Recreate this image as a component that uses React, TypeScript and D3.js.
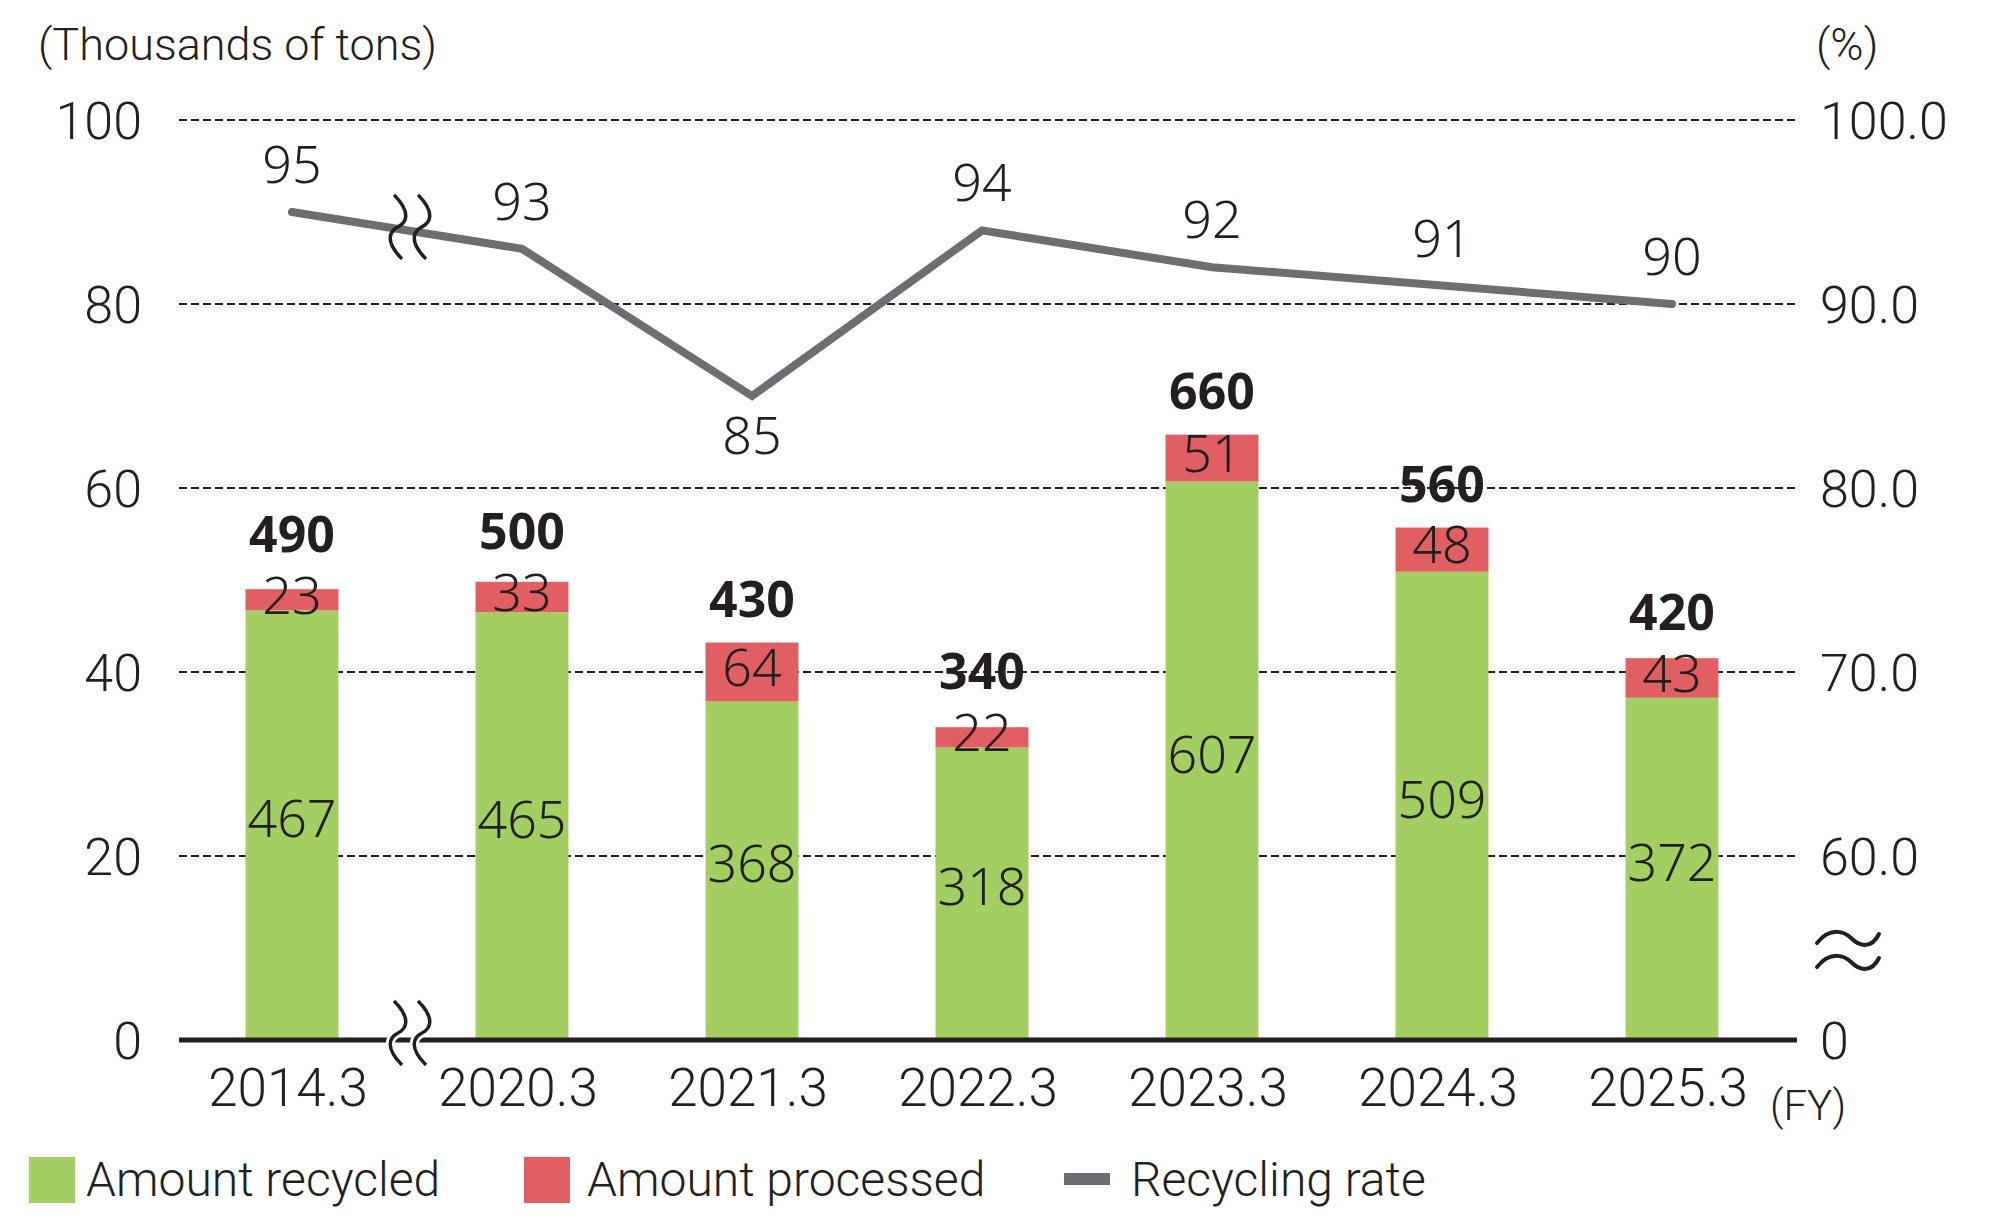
import React from 'react'
import * as d3 from 'd3'

// fiscal years on the x axis
const years = ['2014.3', '2020.3', '2021.3', '2022.3', '2023.3', '2024.3', '2025.3']
// hundreds of tons, as labelled on the bars
const recycled = [467, 465, 368, 318, 607, 509, 372]
const processed = [23, 33, 64, 22, 51, 48, 43]
const totals = [490, 500, 430, 340, 660, 560, 420]
// recycling rate, %
const rate = [95, 93, 85, 94, 92, 91, 90]

const leftTicks = [0, 20, 40, 60, 80, 100]
const rightTicks = [60, 70, 80, 90, 100]

const GREEN = '#a3cf62'
const RED = '#e15e62'
const GREY = '#6d6e71'
const AXIS_FONT = 'Roboto, "Liberation Sans", sans-serif'
const DATA_FONT = '"Noto Sans", "Open Sans", sans-serif'

export default () => {
  const W = 2000
  const H = 1232

  const x = d3
    .scaleBand<string>()
    .domain(years)
    .range([177, 1787])
    .paddingInner(0.596)
    .paddingOuter(0.298)

  const y = d3.scaleLinear().domain([0, 100]).range([1040, 120])
  // right axis: 60..100 % mapped onto 20..100 of the left axis
  const yRate = d3.scaleLinear().domain([50, 100]).range([y(0), y(100)])

  const plotLeft = 179
  const plotRight = 1797
  const cx = (d: string) => (x(d) as number) + x.bandwidth() / 2

  const line = d3
    .line<number>()
    .x((_, i) => cx(years[i]))
    .y((d) => yRate(d))

  // squiggle used for the axis breaks
  const squiggle = (bx: number, by: number) =>
    `M${bx - 4},${by - 32} C${bx + 14},${by - 14} ${bx + 8},${by - 4} ${bx},${by}` +
    ` C${bx - 8},${by + 4} ${bx - 14},${by + 14} ${bx + 4},${by + 32}`
  const tilde = (tx: number, ty: number) =>
    `M${tx},${ty + 5} C${tx + 14},${ty - 12} ${tx + 28},${ty - 6} ${tx + 34},${ty}` +
    ` C${tx + 42},${ty + 8} ${tx + 54},${ty + 12} ${tx + 62},${ty - 4}`

  const breakX = (cx(years[0]) + cx(years[1])) / 2 + 3
  const t = (breakX - cx(years[0])) / (cx(years[1]) - cx(years[0]))
  const breakLineY = yRate(rate[0]) + t * (yRate(rate[1]) - yRate(rate[0]))
  const minIdx = rate.indexOf(d3.min(rate) as number)

  return (
    <svg
      width={W}
      height={H}
      viewBox={`0 0 ${W} ${H}`}
      style={{ position: 'absolute', left: 0, top: 0, background: '#fff' }}
    >
      <rect width={W} height={H} fill="#fff" />

      {/* axis titles */}
      <text x={38} y={60} fontFamily={AXIS_FONT} fontWeight={300} fontSize={45} fill="#231f20">
        (Thousands of tons)
      </text>
      <text x={1816} y={60} fontFamily={AXIS_FONT} fontWeight={300} fontSize={45} fill="#231f20">
        (%)
      </text>

      {/* dashed gridlines */}
      {leftTicks
        .filter((d) => d > 0)
        .map((d) => (
          <line
            key={'g' + d}
            x1={plotLeft}
            x2={plotRight}
            y1={y(d)}
            y2={y(d)}
            stroke="#231f20"
            strokeWidth={2}
            strokeDasharray="8 4"
          />
        ))}

      {/* left tick labels */}
      {leftTicks.map((d) => (
        <text
          key={'l' + d}
          x={142}
          y={y(d)}
          dy="0.36em"
          textAnchor="end"
          fontFamily={AXIS_FONT}
          fontWeight={300}
          fontSize={52}
          fill="#231f20"
        >
          {d}
        </text>
      ))}

      {/* right tick labels */}
      {rightTicks.map((d) => (
        <text
          key={'r' + d}
          x={1820}
          y={yRate(d)}
          dy="0.36em"
          fontFamily={AXIS_FONT}
          fontWeight={300}
          fontSize={52}
          fill="#231f20"
        >
          {d.toFixed(1)}
        </text>
      ))}
      <text x={1820} y={y(0)} dy="0.36em" fontFamily={AXIS_FONT} fontWeight={300} fontSize={52} fill="#231f20">
        0
      </text>
      <path d={tilde(1817, 938)} fill="none" stroke="#231f20" strokeWidth={4} strokeLinecap="round" />
      <path d={tilde(1817, 962)} fill="none" stroke="#231f20" strokeWidth={4} strokeLinecap="round" />

      {/* stacked bars */}
      {years.map((yr, i) => (
        <g key={'b' + yr}>
          <rect
            x={x(yr)}
            y={y(recycled[i] / 10)}
            width={x.bandwidth()}
            height={y(0) - y(recycled[i] / 10)}
            fill={GREEN}
          />
          <rect
            x={x(yr)}
            y={y((recycled[i] + processed[i]) / 10)}
            width={x.bandwidth()}
            height={y(recycled[i] / 10) - y((recycled[i] + processed[i]) / 10)}
            fill={RED}
          />
        </g>
      ))}

      {/* baseline */}
      <line x1={plotLeft} x2={plotRight} y1={y(0)} y2={y(0)} stroke="#231f20" strokeWidth={5} />
      {[-12, 12].map((o) => (
        <g key={'bk' + o}>
          <path d={squiggle(breakX + o, y(0) - 7)} fill="none" stroke="#fff" strokeWidth={9} />
          <path d={squiggle(breakX + o, y(0) - 7)} fill="none" stroke="#231f20" strokeWidth={3.5} />
        </g>
      ))}

      {/* bar value labels */}
      {years.map((yr, i) => {
        const gMid = (y(0) + y(recycled[i] / 10)) / 2
        const rMid = (y(recycled[i] / 10) + y((recycled[i] + processed[i]) / 10)) / 2
        const top = y((recycled[i] + processed[i]) / 10)
        // total sits above the bar, clear of the small red-segment label
        const totalY = Math.min(rMid - 48, top - 26)
        return (
          <g key={'v' + yr} fontFamily={DATA_FONT} fontSize={52} textAnchor="middle" fill="#231f20">
            <text x={cx(yr)} y={gMid - 7} dy="0.36em" fontWeight={300}>
              {recycled[i]}
            </text>
            <text x={cx(yr)} y={rMid - 5} dy="0.36em" fontWeight={300}>
              {processed[i]}
            </text>
            <text x={cx(yr)} y={totalY} fontWeight={700} fontSize={50}>
              {totals[i]}
            </text>
          </g>
        )
      })}

      {/* recycling rate line */}
      <path d={line(rate) as string} fill="none" stroke={GREY} strokeWidth={8} strokeLinejoin="miter" strokeLinecap="round" />
      {[-12, 12].map((o) => (
        <path key={'lk' + o} d={squiggle(breakX + o, breakLineY - 4)} fill="none" stroke="#231f20" strokeWidth={3.5} />
      ))}
      {rate.map((r, i) => (
        <text
          key={'rl' + i}
          x={cx(years[i])}
          y={i === minIdx ? yRate(r) + 58 : yRate(r) - 29}
          textAnchor="middle"
          fontFamily={DATA_FONT}
          fontWeight={300}
          fontSize={52}
          fill="#231f20"
        >
          {r}
        </text>
      ))}

      {/* category labels */}
      {years.map((yr) => (
        <text
          key={'c' + yr}
          x={cx(yr) - 4}
          y={1106}
          textAnchor="middle"
          fontFamily={AXIS_FONT}
          fontWeight={300}
          fontSize={53}
          fill="#231f20"
        >
          {yr}
        </text>
      ))}
      <text x={1770} y={1120} fontFamily={AXIS_FONT} fontWeight={300} fontSize={42} fill="#231f20">
        (FY)
      </text>

      {/* legend */}
      <g fontFamily={AXIS_FONT} fontWeight={300} fontSize={48} fill="#231f20">
        <rect x={29} y={1157} width={46} height={46} fill={GREEN} />
        <text x={86} y={1196}>Amount recycled</text>
        <rect x={524} y={1157} width={46} height={46} fill={RED} />
        <text x={587} y={1196}>Amount processed</text>
        <rect x={1064} y={1173} width={46} height={12} fill={GREY} />
        <text x={1131} y={1196}>Recycling rate</text>
      </g>
    </svg>
  )
}
